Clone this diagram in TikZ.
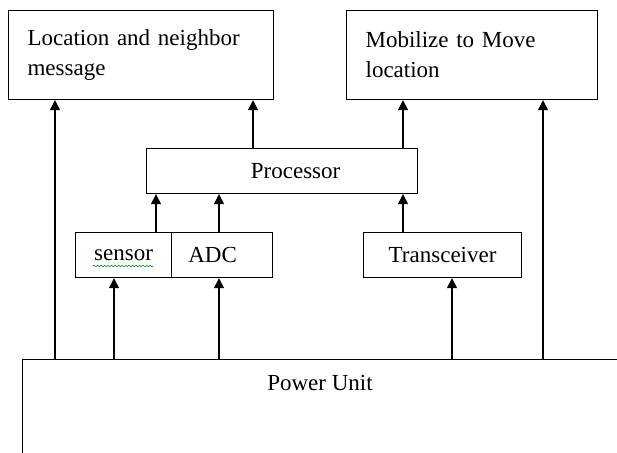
\documentclass[tikz,border=0pt]{standalone}
\usepackage{fontspec}
\setmainfont{Liberation Serif}
\usetikzlibrary{arrows.meta,decorations.pathmorphing}

\begin{document}
\begin{tikzpicture}[x=1pt, y=-1pt,
    every node/.style={font=\fontsize{23pt}{30pt}\selectfont},
    box/.style={draw, line width=1.2pt, anchor=north west, inner sep=0pt},
    arr/.style={line width=1.3pt, -{Triangle[length=10pt, width=10pt]}}]
    \clip (0,0) rectangle (617,452);

    % Top boxes
    \node[box, minimum width=265pt, minimum height=89pt, text width=227pt, inner xsep=19pt, align=left] (loc) at (8,10) {Location and neighbor\\message};
    \node[box, minimum width=251pt, minimum height=89pt, text width=213pt, inner xsep=19pt, align=left] (move) at (346,10) {Mobilize to Move\\location};

    % Processor
    \node[box, minimum width=271pt, minimum height=45pt] (proc) at (146,148) {\hspace*{27pt}Processor};

    % Sensor, ADC and transceiver
    \node[box, minimum width=96pt, minimum height=45pt] (sensor) at (75,232) {sensor};
    \node[box, minimum width=101pt, minimum height=45pt] (adc) at (171,232) {ADC\hspace*{19pt}};
    \node[box, minimum width=158pt, minimum height=45pt] (trx) at (363,232) {Transceiver};
    \draw[green!55!black, line width=0.6pt, decorate, decoration={snake, amplitude=0.9pt, segment length=3.5pt}] (93,266) -- (153,266); % spell check line

    % Power unit (runs off the page)
    \node[box, minimum width=700pt, minimum height=200pt] (power) at (22,359) {};
    \node (pwrtext) at (320,383) {Power Unit};

    % Columns of the arrows
    \coordinate (c1) at (55,0);
    \coordinate (c2) at (114,0);
    \coordinate (c3) at (156,0);
    \coordinate (c4) at (219,0);
    \coordinate (c5) at (253,0);
    \coordinate (c6) at (403,0);
    \coordinate (c7) at (452,0);
    \coordinate (c8) at (543,0);

    % Arrows from the power unit
    \draw[arr] (power.north -| c1) -- (loc.south -| c1);
    \draw[arr] (power.north -| c2) -- (sensor.south -| c2);
    \draw[arr] (power.north -| c4) -- (adc.south -| c4);
    \draw[arr] (power.north -| c7) -- (trx.south -| c7);
    \draw[arr] (power.north -| c8) -- (move.south -| c8);

    % Arrows into and out of the processor
    \draw[arr] (sensor.north -| c3) -- (proc.south -| c3);
    \draw[arr] (adc.north -| c4) -- (proc.south -| c4);
    \draw[arr] (trx.north -| c6) -- (proc.south -| c6);
    \draw[arr] (proc.north -| c5) -- (loc.south -| c5);
    \draw[arr] (proc.north -| c6) -- (move.south -| c6);
\end{tikzpicture}
\end{document}
